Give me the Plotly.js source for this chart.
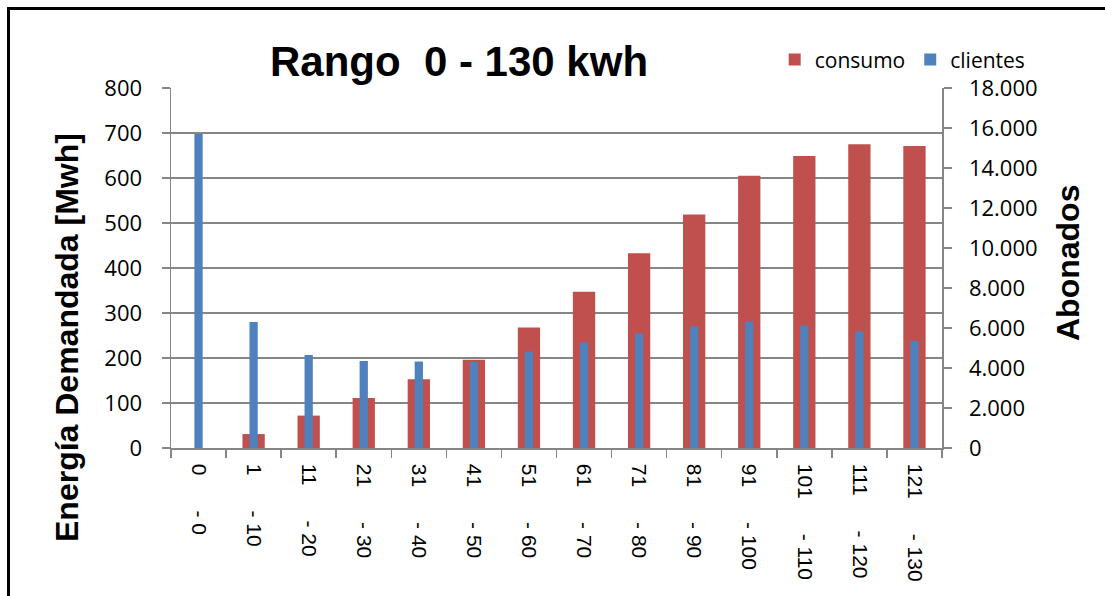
<!DOCTYPE html>
<html>
<head>
<meta charset="utf-8">
<script src="https://cdn.plot.ly/plotly-3.0.1.min.js"></script>
<style>
  html, body { margin: 0; padding: 0; background: #fff; }
  #chart { position: absolute; left: 0; top: 0; width: 1105px; height: 596px; }
  #frame { position: absolute; left: 7px; top: 7px; width: 1110px; height: 600px;
           border-left: 3px solid #000; border-top: 3px solid #000; pointer-events: none; }
</style>
</head>
<body>
<div id="chart"></div>
<div id="frame"></div>
<script>
// ---- data ----
const rangeLow  = [0, 1, 11, 21, 31, 41, 51, 61, 71, 81, 91, 101, 111, 121];
const rangeHigh = [0, 10, 20, 30, 40, 50, 60, 70, 80, 90, 100, 110, 120, 130];
const consumo   = [0, 31, 72, 111, 153, 196, 268, 347, 433, 519, 605, 649, 675, 671];
const clientes  = [15700, 6300, 4650, 4350, 4330, 4300, 4820, 5280, 5730, 6080, 6330, 6130, 5830, 5350];
const seriesNames = ['consumo', 'clientes'];
const chartTitle = 'Rango  0 - 130 kwh';
const leftTitle = 'Energía Demandada [Mwh]';
const rightTitle = 'Abonados';

const NB = '\u00A0';
const categories = rangeLow.map((lo, i) => lo + NB.repeat(6) + '-' + NB + rangeHigh[i]);

const gray = '#868686';
const tickFont = { family: 'Open Sans', size: 22, color: '#000' };

const traces = [
  {
    type: 'bar', name: seriesNames[0], x: categories, y: consumo,
    width: 0.405, marker: { color: '#C0504D', line: { width: 0 } },
    yaxis: 'y', hoverinfo: 'skip'
  },
  {
    type: 'bar', name: seriesNames[1], x: categories, y: clientes,
    width: 0.15, marker: { color: '#4F81BD', line: { width: 0 } },
    yaxis: 'y2', hoverinfo: 'skip'
  }
];

const layout = {
  width: 1105, height: 596,
  margin: { l: 171, r: 163, t: 88, b: 148, pad: 0 },
  paper_bgcolor: '#fff', plot_bgcolor: '#fff',
  separators: ',.',
  barmode: 'overlay',
  showlegend: true,
  title: {
    text: '<b>' + chartTitle + '</b>',
    font: { family: 'Liberation Sans', size: 42, color: '#000' },
    x: 459 / 1105, xref: 'container', xanchor: 'center',
    y: 1 - 61 / 596, yref: 'container', yanchor: 'middle'
  },
  legend: {
    orientation: 'h', x: 0.783, xanchor: 'left', y: 1.078, yanchor: 'middle',
    font: { family: 'Open Sans', size: 21, color: '#000' },
    bgcolor: 'rgba(0,0,0,0)', traceorder: 'normal', tracegroupgap: 0
  },
  xaxis: {
    type: 'category', tickson: 'boundaries', ticks: 'outside', ticklen: 8,
    tickcolor: gray, tickwidth: 1.5, showline: true, linecolor: gray, linewidth: 1.5,
    showgrid: false, tickangle: 90, ticklabelstandoff: 10,
    tickfont: { family: 'Liberation Sans', size: 21, color: '#000' }, fixedrange: true
  },
  yaxis: {
    range: [0, 800], dtick: 100, tick0: 0, showgrid: true, gridcolor: gray, gridwidth: 1.5,
    showline: true, linecolor: gray, linewidth: 1.5, ticks: 'outside', ticklen: 8,
    tickcolor: gray, tickwidth: 1.5, tickfont: tickFont, zeroline: false,
    ticklabelstandoff: 15, fixedrange: true
  },
  yaxis2: {
    overlaying: 'y', side: 'right', range: [0, 18000], dtick: 2000, tick0: 0,
    showgrid: false, showline: true, linecolor: gray, linewidth: 1.5, ticks: 'outside',
    ticklen: 8, tickcolor: gray, tickwidth: 1.5, tickfont: tickFont, tickformat: ',d',
    zeroline: false, ticklabelstandoff: 13, fixedrange: true
  },
  annotations: [
    {
      text: '<b>' + leftTitle + '</b>', textangle: -90, showarrow: false,
      xref: 'paper', yref: 'paper', x: (67 - 171) / 771, y: (448 - 338) / 360,
      xanchor: 'center', yanchor: 'middle',
      font: { family: 'Liberation Sans', size: 32, color: '#000' }
    },
    {
      text: '<b>' + rightTitle + '</b>', textangle: -90, showarrow: false,
      xref: 'paper', yref: 'paper', x: (1068 - 171) / 771, y: (448 - 263) / 360,
      xanchor: 'center', yanchor: 'middle',
      font: { family: 'Liberation Sans', size: 32, color: '#000' }
    }
  ]
};

Plotly.newPlot('chart', traces, layout, { staticPlot: true, displayModeBar: false });
</script>
</body>
</html>
